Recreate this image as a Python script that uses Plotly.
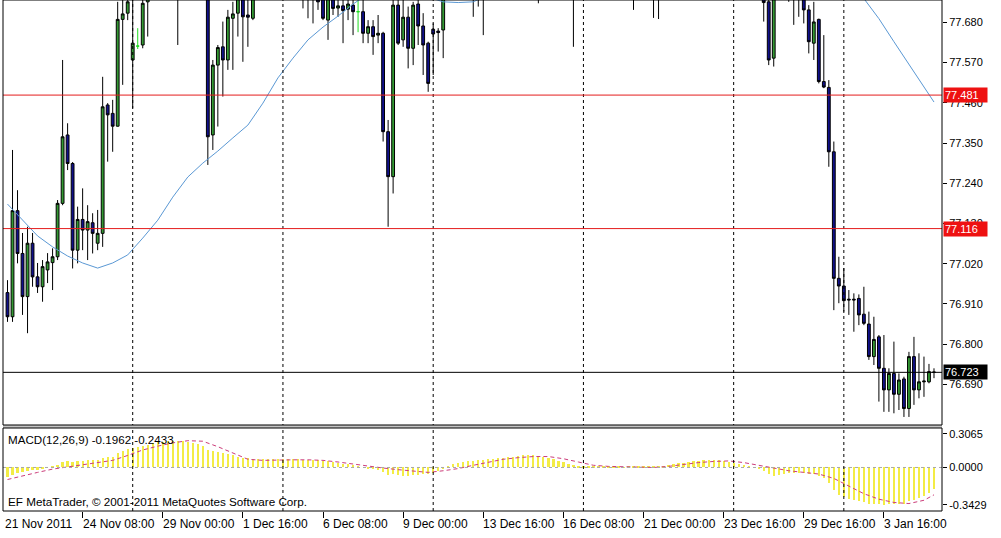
import plotly.graph_objects as go

# ---------------- data (H4 bars, index 0..185) ----------------
opens = [
    76.941, 76.875, 77.165, 77.048, 76.930, 77.076, 76.984, 76.957, 77.003, 77.023,
    77.039, 77.185, 77.372, 77.294, 77.057, 77.141, 77.112, 77.132, 77.076, 77.103,
    77.454, 77.431, 77.396, 77.688, 77.705, 77.577, 77.615, 77.618, 77.736, 77.782,
    77.810, 77.840, 77.820, 77.850, 77.870, 77.840, 77.880, 77.900, 77.860, 77.870,
    77.820, 77.372, 77.563, 77.613, 77.577, 77.691, 77.705, 77.770, 77.700, 77.691,
    77.768, 77.800, 77.840, 77.830, 77.860, 77.880, 77.860, 77.840, 77.820, 77.800,
    77.790, 77.800, 77.780, 77.750, 77.686, 77.760, 77.719, 77.725, 77.716, 77.727,
    77.709, 77.709, 77.650, 77.668, 77.645, 77.650, 77.381, 77.258, 77.727, 77.632,
    77.694, 77.609, 77.730, 77.670, 77.623, 77.661, 77.656, 77.659, 77.760, 77.800,
    77.830, 77.860, 77.850, 77.870, 77.840, 77.860, 77.880, 77.910, 77.940, 77.920,
    77.950, 77.980, 77.960, 77.990, 78.010, 77.980, 77.950, 77.880, 77.920, 77.950,
    77.930, 77.900, 77.870, 77.840, 77.860, 77.890, 77.880, 77.900, 77.870, 77.890,
    77.880, 77.860, 77.880, 77.870, 77.850, 77.830, 77.860, 77.880, 77.860, 77.840,
    77.820, 77.850, 77.870, 77.900, 77.930, 77.950, 77.960, 77.940, 77.970, 77.980,
    77.960, 77.970, 77.950, 77.930, 77.940, 77.920, 77.890, 77.870, 77.850, 77.830,
    77.810, 77.780, 77.736, 77.582, 77.760, 77.780, 77.770, 77.755, 77.765, 77.760,
    77.714, 77.623, 77.688, 77.518, 77.502, 77.326, 76.980, 76.959, 76.923, 76.923,
    76.925, 76.882, 76.855, 76.766, 76.820, 76.734, 76.675, 76.720, 76.663, 76.705,
    76.624, 76.766, 76.675, 76.697, 76.697, 76.724,
]
highs = [
    76.975, 77.331, 77.221, 77.104, 77.121, 77.104, 77.022, 77.030, 77.049, 77.062,
    77.194, 77.577, 77.404, 77.298, 77.176, 77.226, 77.180, 77.158, 77.167, 77.531,
    77.459, 77.468, 77.736, 77.755, 77.768, 77.763, 77.664, 77.768, 77.796, 77.830,
    77.860, 77.880, 77.870, 77.900, 77.920, 77.900, 77.930, 77.940, 77.900, 77.910,
    77.840, 77.577, 77.618, 77.682, 77.714, 77.736, 77.796, 77.800, 77.755, 77.790,
    77.820, 77.860, 77.890, 77.880, 77.920, 77.930, 77.900, 77.880, 77.860, 77.840,
    77.830, 77.840, 77.810, 77.780, 77.790, 77.780, 77.760, 77.750, 77.750, 77.750,
    77.760, 77.750, 77.686, 77.686, 77.700, 77.654, 77.413, 77.750, 77.745, 77.745,
    77.723, 77.736, 77.745, 77.705, 77.627, 77.677, 77.664, 77.790, 77.820, 77.850,
    77.880, 77.910, 77.900, 77.910, 77.890, 77.910, 77.930, 77.960, 77.990, 77.970,
    78.000, 78.030, 78.010, 78.040, 78.050, 78.020, 77.990, 77.940, 77.970, 77.990,
    77.970, 77.940, 77.910, 77.890, 77.910, 77.930, 77.920, 77.940, 77.910, 77.930,
    77.920, 77.900, 77.920, 77.910, 77.890, 77.870, 77.900, 77.920, 77.900, 77.880,
    77.860, 77.890, 77.920, 77.950, 77.970, 77.990, 78.000, 77.980, 78.010, 78.020,
    78.000, 78.010, 77.990, 77.970, 77.980, 77.960, 77.930, 77.910, 77.890, 77.870,
    77.840, 77.800, 77.750, 77.790, 77.800, 77.820, 77.800, 77.790, 77.800, 77.790,
    77.727, 77.736, 77.690, 77.645, 77.522, 77.354, 77.039, 77.008, 76.948, 76.939,
    76.936, 76.957, 76.889, 76.875, 76.825, 76.825, 76.734, 76.807, 76.720, 76.711,
    76.779, 76.820, 76.775, 76.766, 76.746, 76.734,
]
lows = [
    76.861, 76.861, 77.021, 76.880, 76.830, 76.957, 76.940, 76.916, 76.967, 76.948,
    77.030, 77.180, 77.276, 77.007, 77.021, 77.057, 77.030, 77.048, 77.057, 77.066,
    77.299, 77.326, 77.395, 77.509, 77.686, 77.445, 77.607, 77.609, 77.641, 77.760,
    77.780, 77.800, 77.790, 77.820, 77.618, 77.800, 77.850, 77.840, 77.820, 77.800,
    77.290, 77.331, 77.395, 77.477, 77.550, 77.550, 77.641, 77.572, 77.613, 77.686,
    77.750, 77.780, 77.810, 77.790, 77.830, 77.840, 77.810, 77.790, 77.770, 77.718,
    77.691, 77.677, 77.714, 77.686, 77.632, 77.700, 77.695, 77.623, 77.686, 77.645,
    77.653, 77.623, 77.623, 77.591, 77.623, 77.354, 77.121, 77.212, 77.618, 77.613,
    77.554, 77.563, 77.618, 77.536, 77.490, 77.536, 77.600, 77.582, 77.750, 77.770,
    77.800, 77.820, 77.800, 77.695, 77.723, 77.645, 77.850, 77.880, 77.900, 77.890,
    77.920, 77.940, 77.920, 77.950, 77.960, 77.930, 77.732, 77.840, 77.880, 77.900,
    77.870, 77.850, 77.800, 77.613, 77.820, 77.850, 77.840, 77.860, 77.830, 77.850,
    77.840, 77.820, 77.840, 77.830, 77.800, 77.714, 77.820, 77.840, 77.810, 77.692,
    77.689, 77.810, 77.840, 77.870, 77.890, 77.910, 77.920, 77.900, 77.930, 77.940,
    77.920, 77.930, 77.910, 77.890, 77.900, 77.870, 77.850, 77.830, 77.810, 77.790,
    77.770, 77.682, 77.563, 77.559, 77.745, 77.750, 77.736, 77.673, 77.695, 77.677,
    77.595, 77.577, 77.513, 77.500, 77.285, 76.893, 76.912, 76.889, 76.880, 76.834,
    76.852, 76.852, 76.757, 76.743, 76.643, 76.615, 76.615, 76.611, 76.620, 76.601,
    76.601, 76.634, 76.652, 76.656, 76.693, 76.707,
]
closes = [
    76.875, 77.165, 77.048, 76.930, 77.076, 76.984, 76.957, 77.012, 77.025, 77.039,
    77.185, 77.367, 77.294, 77.057, 77.141, 77.112, 77.135, 77.103, 77.103, 77.449,
    77.427, 77.396, 77.688, 77.703, 77.736, 77.623, 77.615, 77.732, 77.782, 77.810,
    77.840, 77.820, 77.850, 77.870, 77.840, 77.880, 77.900, 77.860, 77.870, 77.820,
    77.367, 77.563, 77.611, 77.577, 77.694, 77.703, 77.768, 77.695, 77.694, 77.768,
    77.800, 77.840, 77.830, 77.860, 77.890, 77.860, 77.840, 77.820, 77.800, 77.790,
    77.800, 77.780, 77.736, 77.691, 77.760, 77.718, 77.725, 77.712, 77.730, 77.709,
    77.709, 77.650, 77.668, 77.641, 77.650, 77.381, 77.258, 77.727, 77.623, 77.694,
    77.609, 77.727, 77.670, 77.618, 77.513, 77.648, 77.652, 77.760, 77.800, 77.830,
    77.860, 77.850, 77.870, 77.840, 77.860, 77.880, 77.910, 77.940, 77.920, 77.950,
    77.980, 77.960, 77.990, 78.010, 77.980, 77.950, 77.880, 77.920, 77.950, 77.930,
    77.900, 77.870, 77.840, 77.860, 77.890, 77.880, 77.900, 77.870, 77.890, 77.880,
    77.860, 77.880, 77.870, 77.850, 77.830, 77.860, 77.880, 77.860, 77.840, 77.820,
    77.850, 77.870, 77.900, 77.930, 77.950, 77.960, 77.940, 77.970, 77.980, 77.960,
    77.970, 77.950, 77.930, 77.940, 77.920, 77.890, 77.870, 77.850, 77.830, 77.810,
    77.780, 77.734, 77.577, 77.760, 77.780, 77.770, 77.755, 77.765, 77.760, 77.714,
    77.627, 77.681, 77.518, 77.503, 77.326, 76.980, 76.959, 76.919, 76.921, 76.921,
    76.880, 76.857, 76.766, 76.813, 76.734, 76.675, 76.720, 76.663, 76.702, 76.624,
    76.766, 76.675, 76.697, 76.699, 76.725, 76.723,
]
doji_bars = [26, 70]

# moving average (read every 3rd bar)
ma_bars = list(range(0, 184, 3)) + [185]
ma_vals = [
    77.183, 77.139, 77.096, 77.066, 77.041, 77.022, 77.008, 77.022, 77.044, 77.090,
    77.139, 77.202, 77.257, 77.295, 77.328, 77.364, 77.399, 77.459, 77.528, 77.582,
    77.632, 77.667, 77.697, 77.730, 77.757, 77.768, 77.763, 77.757, 77.749, 77.736,
    77.734, 77.736, 77.755, 77.780, 77.810, 77.840, 77.860, 77.880, 77.890, 77.900,
    77.910, 77.915, 77.920, 77.925, 77.930, 77.935, 77.940, 77.945, 77.940, 77.930,
    77.915, 77.900, 77.880, 77.860, 77.840, 77.810, 77.780, 77.745, 77.690, 77.627,
    77.564, 77.502, 77.462,
]

# MACD histogram (every bar)
macd_hist = [
    -0.09, -0.07, -0.05, -0.04, -0.03, -0.02, -0.02, -0.01, 0.0, 0.01,
    0.02, 0.05, 0.06, 0.05, 0.06, 0.06, 0.065, 0.065, 0.07, 0.09,
    0.10, 0.10, 0.13, 0.15, 0.17, 0.18, 0.19, 0.20, 0.21, 0.22,
    0.23, 0.235, 0.24, 0.245, 0.245, 0.24, 0.235, 0.225, 0.215, 0.20,
    0.16, 0.15, 0.14, 0.13, 0.12, 0.11, 0.10, 0.09, 0.085, 0.08,
    0.075, 0.075, 0.075, 0.075, 0.08, 0.08, 0.08, 0.075, 0.075, 0.07,
    0.07, 0.07, 0.065, 0.06, 0.055, 0.05, 0.04, 0.035, 0.03, 0.02,
    0.01, 0.0, -0.01, -0.015, -0.02, -0.04, -0.07, -0.06, -0.07, -0.08,
    -0.08, -0.07, -0.07, -0.06, -0.06, -0.05, -0.03, -0.01, 0.01, 0.03,
    0.04, 0.05, 0.055, 0.06, 0.065, 0.07, 0.075, 0.08, 0.085, 0.09,
    0.095, 0.10, 0.105, 0.11, 0.11, 0.11, 0.105, 0.10, 0.09, 0.08,
    0.06, 0.05, 0.035, 0.02, 0.015, 0.01, 0.008, 0.006, 0.005, 0.006,
    0.008, 0.006, 0.005, 0.004, 0.005, 0.006, 0.008, 0.01, 0.008, 0.006,
    0.01, 0.015, 0.02, 0.03, 0.04, 0.045, 0.05, 0.055, 0.06, 0.065,
    0.07, 0.07, 0.065, 0.06, 0.05, 0.04, 0.03, 0.02, 0.01, 0.0,
    -0.01, -0.03, -0.06, -0.08, -0.07, -0.06, -0.05, -0.05, -0.05, -0.05,
    -0.06, -0.06, -0.08, -0.10, -0.14, -0.21, -0.25, -0.27, -0.29, -0.30,
    -0.31, -0.32, -0.33, -0.33, -0.335, -0.34, -0.335, -0.335, -0.33, -0.33,
    -0.31, -0.30, -0.28, -0.26, -0.23, -0.196,
]
# MACD signal (read every 3rd bar)
sig_bars = list(range(0, 184, 3)) + [185]
sig_vals = [
    -0.11, -0.075, -0.045, -0.015, 0.005, 0.02, 0.04, 0.065, 0.11, 0.16,
    0.195, 0.225, 0.245, 0.24, 0.19, 0.13, 0.075, 0.065, 0.07, 0.07,
    0.07, 0.065, 0.05, 0.03, 0.01, -0.005, -0.02, -0.035, -0.045, -0.03,
    -0.01, 0.02, 0.05, 0.075, 0.09, 0.10, 0.10, 0.08, 0.05, 0.02,
    0.01, 0.005, 0.0, 0.0, 0.01, 0.03, 0.045, 0.055, 0.06, 0.045,
    0.02, -0.01, -0.03, -0.045, -0.06, -0.10, -0.17, -0.24, -0.29, -0.32,
    -0.33, -0.30, -0.25,
]

price_ticks = [77.680, 77.570, 77.460, 77.350, 77.240, 77.130, 77.020, 76.910, 76.800, 76.690]
macd_ticks = [0.3065, 0.0, -0.3429]
macd_tick_text = ["0.3065", "0.0000", "-0.3429"]
label_bars = [15, 31, 47, 63, 79, 95, 111, 127, 143, 159, 175]
label_text = ["24 Nov 08:00", "29 Nov 00:00", "1 Dec 16:00", "6 Dec 08:00", "9 Dec 00:00",
              "13 Dec 16:00", "16 Dec 08:00", "21 Dec 00:00", "23 Dec 16:00",
              "29 Dec 16:00", "3 Jan 16:00"]
first_label = "21 Nov 2011"
separator_bars = [25, 55, 85, 115, 145, 167]
red_levels = [77.481, 77.116]
last_price = 76.723
macd_title = "MACD(12,26,9) -0.1962 -0.2433"
footer = "EF MetaTrader, © 2001-2011 MetaQuotes Software Corp."

# ---------------- figure ----------------
FONT = "Liberation Sans, Arial, sans-serif"
bars = list(range(len(opens)))
main_idx = [i for i in bars if i not in doji_bars]

fig = go.Figure()
fig.add_trace(go.Candlestick(
    x=main_idx,
    open=[opens[i] for i in main_idx], high=[highs[i] for i in main_idx],
    low=[lows[i] for i in main_idx], close=[closes[i] for i in main_idx],
    xaxis="x", yaxis="y", whiskerwidth=0,
    increasing=dict(line=dict(color="black", width=1), fillcolor="#339933"),
    decreasing=dict(line=dict(color="black", width=1), fillcolor="#10108a"),
    hoverinfo="skip", showlegend=False))
fig.add_trace(go.Candlestick(
    x=doji_bars,
    open=[opens[i] for i in doji_bars], high=[highs[i] for i in doji_bars],
    low=[lows[i] for i in doji_bars], close=[closes[i] for i in doji_bars],
    xaxis="x", yaxis="y", whiskerwidth=0,
    increasing=dict(line=dict(color="#22dd22", width=1), fillcolor="#22dd22"),
    decreasing=dict(line=dict(color="#22dd22", width=1), fillcolor="#22dd22"),
    hoverinfo="skip", showlegend=False))
fig.add_trace(go.Scatter(x=ma_bars, y=ma_vals, mode="lines", xaxis="x", yaxis="y",
                         line=dict(color="#5a98d4", width=1), hoverinfo="skip", showlegend=False))

fig.add_trace(go.Bar(x=bars, y=macd_hist, xaxis="x2", yaxis="y2", width=0.45,
                     marker=dict(color="#f3ec45", line=dict(width=0)),
                     hoverinfo="skip", showlegend=False))
fig.add_trace(go.Scatter(x=sig_bars, y=sig_vals, mode="lines", xaxis="x2", yaxis="y2",
                         line=dict(color="#cc3d7a", width=1, dash="4px,3px"),
                         hoverinfo="skip", showlegend=False))

XR = [-0.9, 186.6]
main_dom = [1 - 425 / 511, 1]
macd_dom = [0, 83 / 511]

shapes = []
# zero level in MACD
shapes.append(dict(type="line", xref="x2 domain", yref="y2", x0=0, x1=1, y0=0, y1=0,
                   line=dict(color="#a8a8a8", width=1, dash="3px,3px")))
# period separators
for b in separator_bars:
    shapes.append(dict(type="line", xref="x", yref="paper", x0=b, x1=b, y0=0, y1=1,
                       line=dict(color="black", width=1, dash="3px,3px")))
# horizontal levels
for lv in red_levels:
    shapes.append(dict(type="line", xref="x domain", yref="y", x0=0, x1=1, y0=lv, y1=lv,
                       line=dict(color="#e41c1c", width=1)))
shapes.append(dict(type="line", xref="x domain", yref="y", x0=0, x1=1, y0=last_price, y1=last_price,
                   line=dict(color="black", width=1)))
# gap between panels
shapes.append(dict(type="rect", xref="paper", yref="paper", x0=0, x1=1,
                   y0=macd_dom[1], y1=main_dom[0], fillcolor="#c4c4c4", line=dict(width=0)))
# panel borders
shapes.append(dict(type="rect", xref="x domain", yref="y domain", x0=0, x1=1, y0=0, y1=1,
                   line=dict(color="black", width=1)))
shapes.append(dict(type="rect", xref="x2 domain", yref="y2 domain", x0=0, x1=1, y0=0, y1=1,
                   line=dict(color="black", width=1)))

ann = []
ann.append(dict(xref="paper", x=0, xanchor="left", yref="paper", y=0, yanchor="top", yshift=-4,
                text=first_label, showarrow=False, font=dict(family=FONT, size=12, color="black")))
for b, t in zip(label_bars, label_text):
    ann.append(dict(xref="x2", x=b, xanchor="left", yref="paper", y=0, yanchor="top", yshift=-4,
                    xshift=-2, text=t, showarrow=False, font=dict(family=FONT, size=12, color="black")))
for lv in red_levels:
    ann.append(dict(xref="paper", x=1, xanchor="left", xshift=1, yref="y", y=lv, yanchor="middle",
                    text=f"{lv:.3f}", showarrow=False, bgcolor="#ee1111", borderpad=1, width=41,
                    align="left", font=dict(family=FONT, size=11, color="white")))
ann.append(dict(xref="paper", x=1, xanchor="left", xshift=1, yref="y", y=last_price, yanchor="middle",
                text=f"{last_price:.3f}", showarrow=False, bgcolor="black", borderpad=1, width=41,
                align="left", font=dict(family=FONT, size=11, color="white")))
ann.append(dict(xref="paper", x=0, xanchor="left", xshift=3, yref="y2 domain", y=1, yanchor="top",
                yshift=-3, text=macd_title, showarrow=False,
                font=dict(family=FONT, size=11.6, color="black")))
ann.append(dict(xref="paper", x=0, xanchor="left", xshift=3, yref="y2 domain", y=0, yanchor="bottom",
                yshift=1, text=footer, showarrow=False,
                font=dict(family=FONT, size=11.7, color="black")))

fig.update_layout(
    width=1001, height=538,
    margin=dict(l=3, r=59, t=0, b=27, pad=0, autoexpand=False),
    paper_bgcolor="white", plot_bgcolor="white",
    showlegend=False, bargap=0, boxgap=0.2, dragmode=False,
    xaxis=dict(domain=[0, 1], anchor="y", range=XR, showticklabels=False, ticks="",
               showgrid=False, zeroline=False, showline=False, automargin=False,
               rangeslider=dict(visible=False)),
    xaxis2=dict(domain=[0, 1], anchor="y2", range=XR, matches="x", tickvals=label_bars,
                showticklabels=False, ticks="outside", ticklen=6, tickcolor="black", tickwidth=1,
                showgrid=False, zeroline=False, showline=False, automargin=False,
                rangeslider=dict(visible=False)),
    yaxis=dict(domain=main_dom, anchor="x", side="right", range=[76.579, 77.741],
               tickvals=price_ticks, tickformat=".3f", ticks="outside", ticklen=4,
               tickcolor="black", showgrid=False, zeroline=False, showline=False, automargin=False,
               tickfont=dict(family=FONT, size=11, color="black")),
    yaxis2=dict(domain=macd_dom, anchor="x2", side="right", range=[-0.398, 0.361],
                tickvals=macd_ticks, ticktext=macd_tick_text, ticks="outside", ticklen=4,
                tickcolor="black", showgrid=False, zeroline=False, showline=False, automargin=False,
                tickfont=dict(family=FONT, size=11, color="black")),
    shapes=shapes,
    annotations=ann,
)

fig.write_html("out.html", config={"displayModeBar": False},
               post_script="document.body.style.margin='0px';document.body.style.overflow='hidden';")
